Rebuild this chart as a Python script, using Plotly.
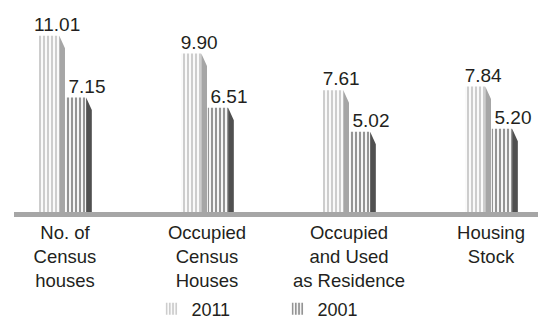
import plotly.graph_objects as go

categories = ["No. of<br>Census<br>houses", "Occupied<br>Census<br>Houses",
              "Occupied<br>and Used<br>as Residence", "Housing<br>Stock"]
series_names = ["2011", "2001"]
values_2011 = [11.01, 9.90, 7.61, 7.84]
values_2001 = [7.15, 6.51, 5.02, 5.20]

xs = list(range(len(categories)))
FONT = "Arial, Liberation Sans, sans-serif"
TXT = "#231f20"

front_w = 0.143
side_w = 0.040
drop = 0.78

styles = {
    "2011": dict(offset=-0.183, fg="#9c9c9c", side="#a6a6a6", lab=-0.055),
    "2001": dict(offset=0.006, fg="#2a2a2a", side="#505050", lab=0.155),
}

fig = go.Figure()
for name, vals in zip(series_names, [values_2011, values_2001]):
    s = styles[name]
    fig.add_trace(go.Bar(
        x=xs, y=vals, name=name, offset=s["offset"], width=front_w,
        marker=dict(color="white", line=dict(width=0),
                    pattern=dict(shape="|", fgcolor=s["fg"], bgcolor="white",
                                 size=4, solidity=0.55, fillmode="overlay")),
        hoverinfo="skip",
    ))
    px, py = [], []
    for x, v in zip(xs, vals):
        xr = x + s["offset"] + front_w
        px += [xr, xr, xr + side_w, xr + side_w, xr, None]
        py += [0, v, v - drop, 0, 0, None]
    fig.add_trace(go.Scatter(
        x=px, y=py, mode="lines", fill="toself", fillcolor=s["side"],
        line=dict(width=0, color=s["side"]), showlegend=False, hoverinfo="skip",
    ))
    fig.add_trace(go.Scatter(
        x=[x + s["lab"] for x in xs], y=vals, mode="text",
        text=[f"{v:.2f}" for v in vals], textposition="top center",
        textfont=dict(family=FONT, size=19, color=TXT),
        showlegend=False, hoverinfo="skip",
    ))

fig.update_layout(
    width=545, height=325,
    margin=dict(l=14, r=7, t=4, b=113, autoexpand=False),
    paper_bgcolor="white", plot_bgcolor="white",
    barmode="overlay",
    font=dict(family=FONT, size=18, color=TXT),
    xaxis=dict(range=[-0.359, 3.331], tickvals=xs, ticktext=categories,
               showline=True, linecolor="#a6a6a6", linewidth=5, automargin=False,
               ticks="", showgrid=False, zeroline=False, ticklabelstandoff=0,
               tickfont=dict(family=FONT, size=18.5, color=TXT), fixedrange=True),
    yaxis=dict(range=[0, 13], visible=False, fixedrange=True, automargin=False),
    legend=dict(orientation="h", x=0.5027, xanchor="center",
                yref="container", y=0.049, yanchor="middle",
                font=dict(family=FONT, size=18, color=TXT), traceorder="normal",
                entrywidth=81),
    showlegend=True,
)

fig.write_html("out.html")
